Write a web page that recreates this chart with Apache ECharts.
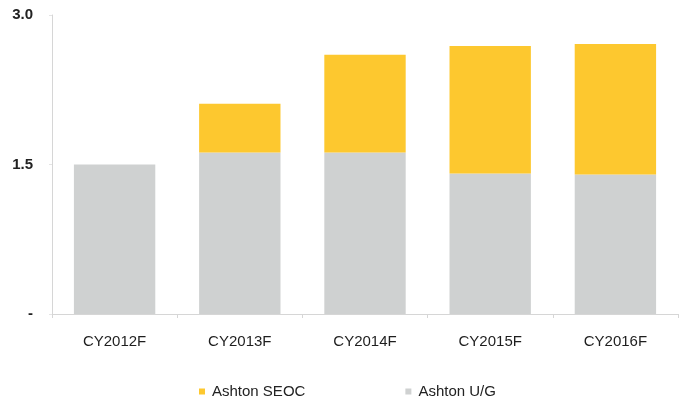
<!DOCTYPE html>
<html>
<head>
<meta charset="utf-8">
<script src="https://cdn.jsdelivr.net/npm/echarts@6/dist/echarts.min.js"></script>
<style>
  html, body { margin: 0; padding: 0; background: #fff; }
  #chart { width: 685px; height: 398px; }
</style>
</head>
<body>
<div id="chart"></div>
<script>
let years = ["CY2012F", "CY2013F", "CY2014F", "CY2015F", "CY2016F"];
let underground = [1.5, 1.62, 1.62, 1.41, 1.4];
let seoc = [0, 0.49, 0.98, 1.28, 1.31];
let yTicks = [0, 1.5, 3.0];

let chart = echarts.init(document.getElementById("chart"));
let option = {
  animation: false,
  grid: {
    left: 52,
    right: 7,
    top: 15,
    bottom: 84,
  },
  legend: {
    left: 194,
    top: 379,
    icon: "rect",
    itemWidth: 6,
    itemHeight: 6,
    itemGap: 100,
    textStyle: {
      fontFamily: "Liberation Sans",
      fontSize: 15,
      color: "#222",
      padding: [0, 0, 0, 2],
    },
    data: ["Ashton SEOC", "Ashton U/G"],
  },
  xAxis: {
    type: "category",
    data: years,
    axisLine: { lineStyle: { color: "#d6d6d6" } },
    axisTick: { show: true, length: 4, lineStyle: { color: "#d6d6d6" } },
    axisLabel: {
      margin: 20,
      fontFamily: "Liberation Sans",
      fontSize: 15,
      color: "#1e1e1e",
    },
  },
  yAxis: {
    type: "value",
    min: 0,
    max: 3,
    interval: 1.5,
    splitLine: { show: false },
    axisLine: { show: true, lineStyle: { color: "#d6d6d6" } },
    axisTick: { show: true, length: 3, lineStyle: { color: "#e4e4e4" } },
    axisLabel: {
      margin: 19,
      fontFamily: "Liberation Sans",
      fontSize: 15,
      fontWeight: "bold",
      color: "#222",
      formatter: function (v) {
        if (v === yTicks[0]) return "-";
        return v.toFixed(1);
      },
    },
  },
  series: [
    {
      name: "Ashton U/G",
      type: "bar",
      stack: "total",
      barWidth: "65%",
      itemStyle: { color: "#cfd1d1" },
      data: underground,
    },
    {
      name: "Ashton SEOC",
      type: "bar",
      stack: "total",
      barWidth: "65%",
      itemStyle: { color: "#fdc82f" },
      data: seoc,
    },
  ],
};
chart.setOption(option);
</script>
</body>
</html>
